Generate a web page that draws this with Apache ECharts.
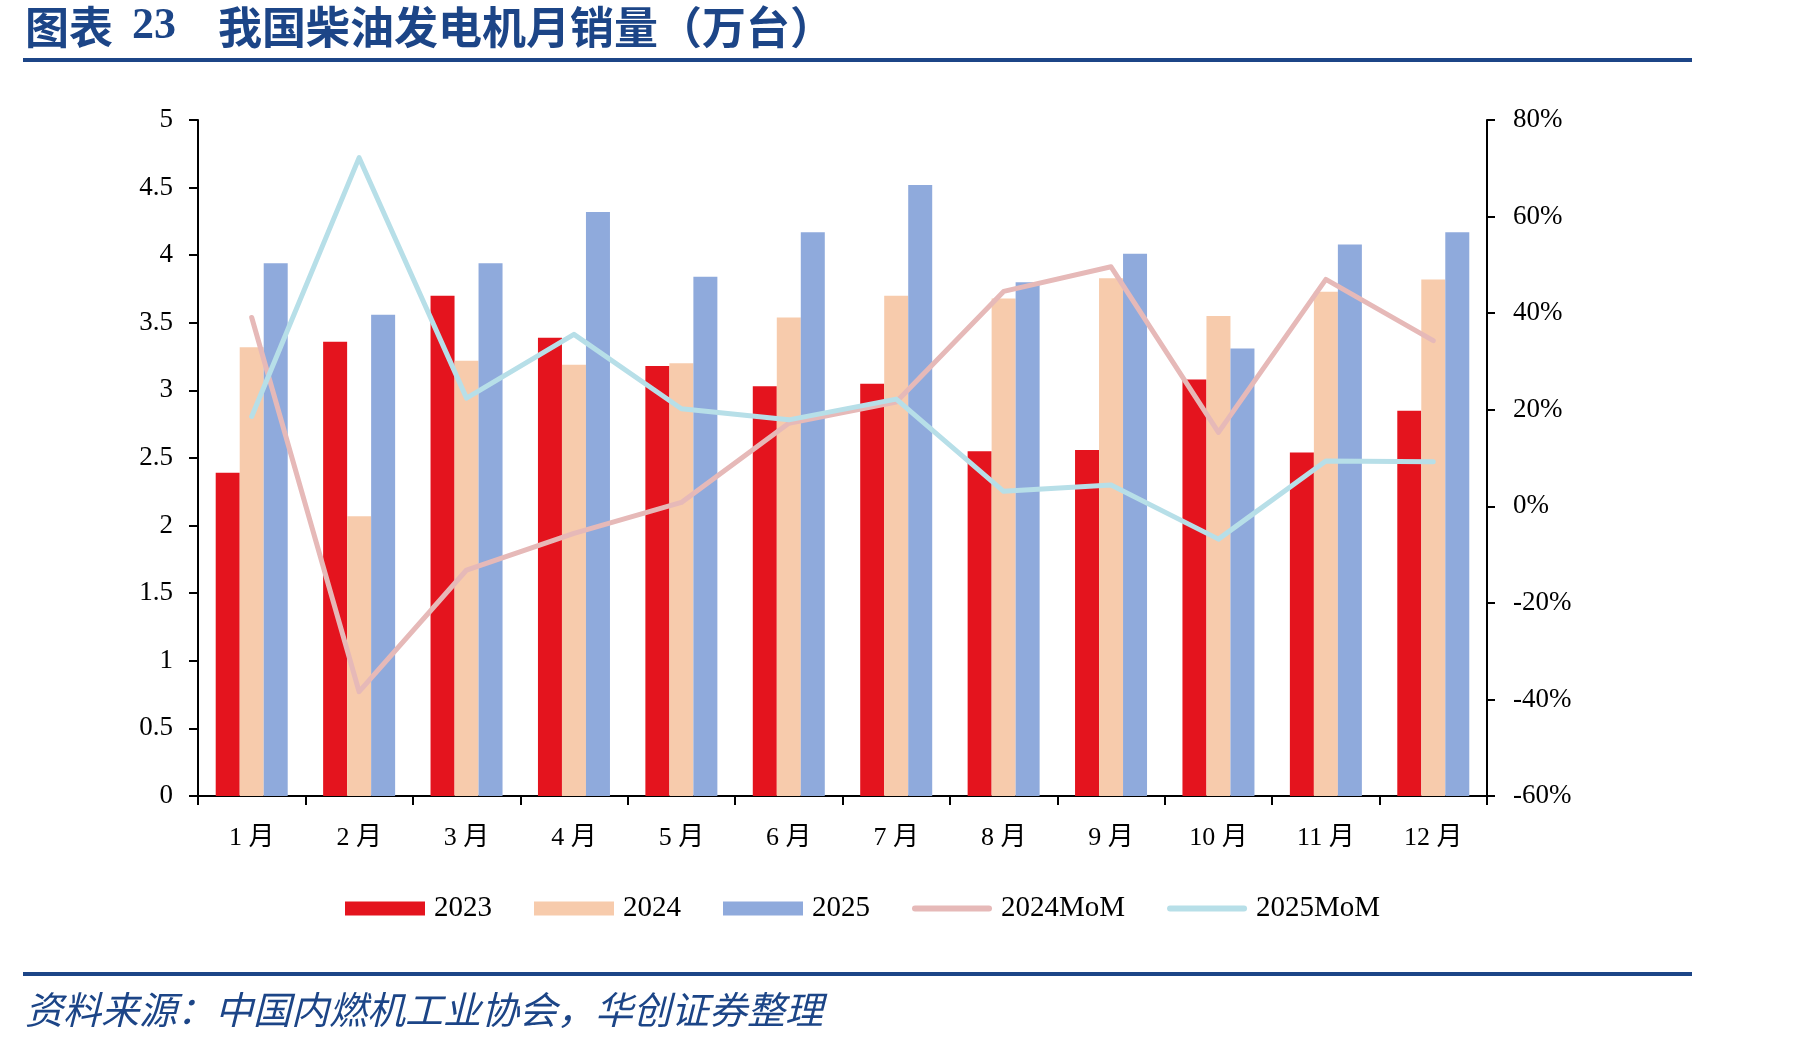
<!DOCTYPE html>
<html>
<head>
<meta charset="utf-8">
<title>我国柴油发电机月销量</title>
<script src="https://cdn.jsdelivr.net/npm/echarts@6/dist/echarts.min.js"></script>
<style>
  html, body { margin: 0; padding: 0; background: #fff; }
  #container { width: 1801px; height: 1043px; }
</style>
</head>
<body>
<div id="container"></div>
<script>
// 月份
var months = ['1 月', '2 月', '3 月', '4 月', '5 月', '6 月', '7 月', '8 月', '9 月', '10 月', '11 月', '12 月']
// 月销量（万台）
var sales2023 = [2.39, 3.36, 3.70, 3.39, 3.18, 3.03, 3.05, 2.55, 2.56, 3.08, 2.54, 2.85]
var sales2024 = [3.32, 2.07, 3.22, 3.19, 3.20, 3.54, 3.70, 3.68, 3.83, 3.55, 3.73, 3.82]
var sales2025 = [3.94, 3.56, 3.94, 4.32, 3.84, 4.17, 4.52, 3.80, 4.01, 3.31, 4.08, 4.17]
// 右轴 %
var mom2024 = [39.1, -38.4, -13.2, -5.6, 0.8, 17.2, 21.6, 44.5, 49.6, 15.3, 47.0, 34.3]
var mom2025 = [18.6, 72.2, 22.4, 35.6, 20.2, 17.9, 22.2, 3.1, 4.4, -6.8, 9.4, 9.2]

var blue = '#1C4587'
var serif = '"Liberation Serif", "Noto Sans CJK SC", serif'
// 图例里的粗线（圆头）
var lineIcon = 'path://M3,0H77A3,3,0,0,1,77,6H3A3,3,0,0,1,3,0Z'

var chart = echarts.init(document.getElementById('container'))

chart.setOption({
  backgroundColor: '#ffffff',
  animation: false,
  graphic: [
    { type: 'text', x: 25, y: 27, style: { text: '图表', fill: blue, font: 'bold 44px "Noto Sans CJK SC"', verticalAlign: 'middle' } },
    { type: 'text', x: 132, y: 27, style: { text: '23', fill: blue, font: 'bold 44px "Liberation Serif"', verticalAlign: 'middle' } },
    { type: 'text', x: 218, y: 27, style: { text: '我国柴油发电机月销量（万台）', fill: blue, font: 'bold 44px "Noto Sans CJK SC"', verticalAlign: 'middle' } },
    { type: 'rect', shape: { x: 23, y: 58, width: 1669, height: 4 }, style: { fill: blue } },
    { type: 'rect', shape: { x: 23, y: 972, width: 1669, height: 4 }, style: { fill: blue } },
    { type: 'text', x: 25, y: 1010, style: { text: '资料来源：中国内燃机工业协会，华创证券整理', fill: blue, font: 'italic 38px "Noto Sans CJK SC"', verticalAlign: 'middle' } }
  ],
  legend: {
    left: 340,
    top: 889,
    itemWidth: 80,
    itemHeight: 14,
    itemGap: 42,
    textStyle: { fontFamily: serif, fontSize: 29, color: '#000', padding: [0, 0, 0, 4] },
    data: [
      { name: '2023', icon: 'rect' },
      { name: '2024', icon: 'rect' },
      { name: '2025', icon: 'rect' },
      { name: '2024MoM', icon: lineIcon },
      { name: '2025MoM', icon: lineIcon }
    ]
  },
  grid: { left: 198, right: 314, top: 120, bottom: 247 },
  xAxis: {
    type: 'category',
    data: months,
    boundaryGap: true,
    axisLine: { lineStyle: { color: '#000', width: 2 } },
    axisTick: { show: true, length: 9, lineStyle: { color: '#000', width: 2 } },
    axisLabel: { fontFamily: serif, fontSize: 26, color: '#000', margin: 29 }
  },
  yAxis: [
    {
      type: 'value',
      min: 0,
      max: 5,
      interval: 0.5,
      splitLine: { show: false },
      axisLine: { show: true, lineStyle: { color: '#000', width: 2 } },
      axisTick: { show: true, length: 9, lineStyle: { color: '#000', width: 2 } },
      axisLabel: { fontFamily: serif, fontSize: 27, color: '#000', margin: 25 }
    },
    {
      type: 'value',
      min: -60,
      max: 80,
      interval: 20,
      splitLine: { show: false },
      axisLine: { show: true, lineStyle: { color: '#000', width: 2 } },
      axisTick: { show: true, length: 8, lineStyle: { color: '#000', width: 2 } },
      axisLabel: { fontFamily: serif, fontSize: 27, color: '#000', margin: 26, formatter: '{value}%' }
    }
  ],
  series: [
    { name: '2023', type: 'bar', data: sales2023, barWidth: 24, barGap: '0%', itemStyle: { color: '#E4141E' } },
    { name: '2024', type: 'bar', data: sales2024, barWidth: 24, barGap: '0%', itemStyle: { color: '#F7CBAC' } },
    { name: '2025', type: 'bar', data: sales2025, barWidth: 24, barGap: '0%', itemStyle: { color: '#8FAADC' } },
    {
      name: '2024MoM',
      type: 'line',
      yAxisIndex: 1,
      data: mom2024,
      symbol: 'none',
      itemStyle: { color: '#E6B9B8' },
      lineStyle: { color: '#E6B9B8', width: 5, cap: 'round', join: 'round' }
    },
    {
      name: '2025MoM',
      type: 'line',
      yAxisIndex: 1,
      data: mom2025,
      symbol: 'none',
      itemStyle: { color: '#B7DFE8' },
      lineStyle: { color: '#B7DFE8', width: 5, cap: 'round', join: 'round' }
    }
  ]
})
</script>
</body>
</html>
